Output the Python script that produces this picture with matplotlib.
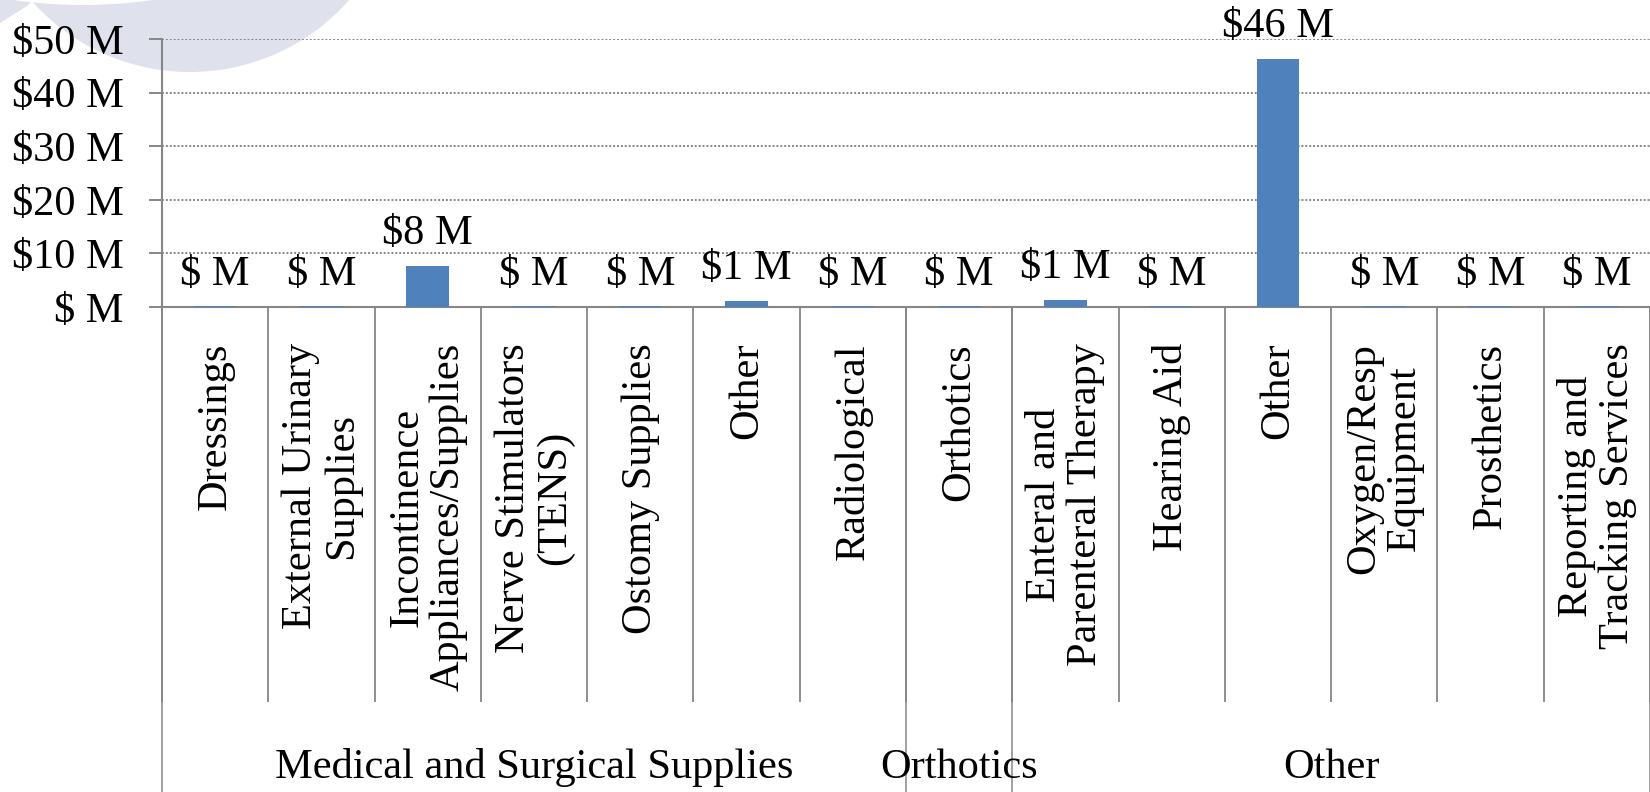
import matplotlib
matplotlib.use("Agg")
import matplotlib.pyplot as plt
from matplotlib.patches import Circle, Polygon
from matplotlib.ticker import FixedLocator, FuncFormatter

plt.rcParams["font.family"] = ["Liberation Serif", "DejaVu Serif"]
plt.rcParams["font.size"] = 30.5

# Spending by item category, in millions of dollars
categories = [
    "Dressings",
    "External Urinary\nSupplies",
    "Incontinence\nAppliances/Supplies",
    "Nerve Stimulators\n(TENS)",
    "Ostomy Supplies",
    "Other",
    "Radiological",
    "Orthotics",
    "Enteral and\nParenteral Therapy",
    "Hearing Aid",
    "Other",
    "Oxygen/Resp\nEquipment",
    "Prosthetics",
    "Reporting and\nTracking Services",
]
values = [0.1, 0.1, 7.6, 0.1, 0.1, 1.2, 0.1, 0.1, 1.3, 0.1, 46.3, 0.1, 0.1, 0.1]

groups = ["Medical and Surgical Supplies", "Orthotics", "Other"]
group_sizes = [7, 1, 6]

y_ticks = [0, 10, 20, 30, 40, 50]

GREY = "#868686"
BLUE = "#4f81bd"
LAVENDER = "#dfe1ed"


def money(v):
    r = round(v)
    return "$ M" if r == 0 else f"${r:d} M"


fig = plt.figure(figsize=(16.5, 7.92), dpi=100)

# decorative background shapes
bg = fig.add_axes([0, 0, 1, 1], zorder=0)
bg.set_xlim(0, 1650)
bg.set_ylim(792, 0)
bg.axis("off")
bg.add_patch(Circle((190, -140), 212, color=LAVENDER, lw=0))
bg.add_patch(Polygon([(0, 0), (0, 23), (27, 6), (33, 0)], closed=True,
                     color=LAVENDER, lw=0))
bg.add_patch(Circle((83, -487), 492, color="white", lw=0))

ax = fig.add_axes([162 / 1650, 1 - 307 / 792, 1 - 162 / 1650, 268 / 792], zorder=1)
ax.set_facecolor("none")

x = list(range(len(categories)))
bars = ax.bar(x, values, width=0.4, color=BLUE, zorder=3)

for xi, v in zip(x, values):
    ax.annotate(money(v), xy=(xi, v), xytext=(0, 15.8), textcoords="offset points",
                ha="center", va="baseline", zorder=4)

ax.set_xlim(-0.5, len(categories) - 0.5)
ax.set_ylim(0, 50)

# y axis
ax.yaxis.set_major_locator(FixedLocator(y_ticks))
ax.yaxis.set_major_formatter(FuncFormatter(lambda v, p: money(v)))
ax.tick_params(axis="y", which="major", length=9.4, width=1.4, color=GREY, pad=18,
               direction="out")
ax.grid(axis="y", color=GREY, linestyle=(0, (1, 1)), linewidth=1.4, zorder=0)

# x axis: category labels and divider ticks
ax.set_xticks(x)
ax.set_xticklabels(categories, rotation=90, multialignment="center",
                   va="top", ha="center", linespacing=1.08)
ax.tick_params(axis="x", which="major", length=0, pad=25.9)
bounds = [i - 0.5 for i in range(len(categories) + 1)]
ax.xaxis.set_minor_locator(FixedLocator(bounds))
ax.tick_params(axis="x", which="minor", length=284.4, width=1.3, color=GREY,
               direction="out")

for side in ("top", "right"):
    ax.spines[side].set_visible(False)
for side in ("left", "bottom"):
    ax.spines[side].set_color(GREY)
    ax.spines[side].set_linewidth(1.5)

# group dividers and group labels
start = -0.5
trans = ax.get_xaxis_transform()
group_edges = [start]
for size in group_sizes:
    group_edges.append(group_edges[-1] + size)
ax.vlines(group_edges, -2.0, 0, transform=trans, colors=GREY, linewidth=1.1,
          clip_on=False)
for name, lo, hi in zip(groups, group_edges[:-1], group_edges[1:]):
    ax.annotate(name, xy=((lo + hi) / 2, 0), xycoords=trans,
                xytext=(0, -339.1), textcoords="offset points",
                ha="center", va="baseline", annotation_clip=False)

fig.savefig("out.png", dpi=100)
